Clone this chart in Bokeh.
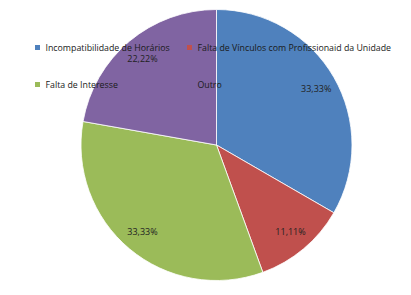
import math
from bokeh.plotting import figure
from bokeh.models import Range1d, ColumnDataSource
from bokeh.core.properties import value
from bokeh.embed import file_html
from bokeh.resources import INLINE

categories = ["Incompatibilidade de Horários", "Falta de Vínculos com Profissionaid da Unidade",
              "Falta de Interesse", "Outro"]
values = [33.33, 11.11, 33.33, 22.22]
labels = ["33,33%", "11,11%", "33,33%", "22,22%"]
colors = ["#4F81BD", "#C0504D", "#9BBB59", "#8064A2"]

W, H = 411, 295
p = figure(width=W, height=H, output_backend="svg", toolbar_location=None,
           x_range=Range1d(0, W), y_range=Range1d(0, H), min_border=0)
p.axis.visible = False
p.grid.visible = False
p.outline_line_color = None
p.background_fill_color = "white"

cx, cy, r = 216, H - 144.5, 135.5
total = sum(values)
starts, ends, lx, ly = [], [], [], []
cum = 0.0
for v in values:
    a0 = math.pi / 2 - 2 * math.pi * cum / total
    cum += v
    a1 = math.pi / 2 - 2 * math.pi * cum / total
    starts.append(a0)
    ends.append(a1)
    mid = (a0 + a1) / 2
    lx.append(cx + 0.85 * r * math.cos(mid))
    ly.append(cy + 0.83 * r * math.sin(mid))

src = ColumnDataSource(dict(start=starts, end=ends, color=colors, lx=lx, ly=ly, lab=labels))
p.wedge(x=cx, y=cy, radius=r, start_angle="start", end_angle="end", direction="clock",
        fill_color="color", line_color="white", line_width=0.8, source=src)
p.text(x="lx", y="ly", text="lab", source=src, text_align="center", text_baseline="middle",
       text_font=value("Open Sans"), text_font_size="9px", text_color="#222222")

# legend (overlaid on top of the pie)
leg_x = [37, 189, 37, 189]
leg_y = [H - 47, H - 47, H - 84, H - 84]
leg = ColumnDataSource(dict(x=leg_x, y=leg_y, tx=[x + 8 for x in leg_x], c=colors, t=categories))
p.rect(x="x", y="y", width=5, height=5, fill_color="c", line_color=None, source=leg)
p.text(x="tx", y="y", text="t", source=leg, text_align="left", text_baseline="middle",
       text_font=value("Open Sans"), text_font_size="8.8px", text_color="#1a1a1a")

open("out.html", "w").write(file_html(p, INLINE))
